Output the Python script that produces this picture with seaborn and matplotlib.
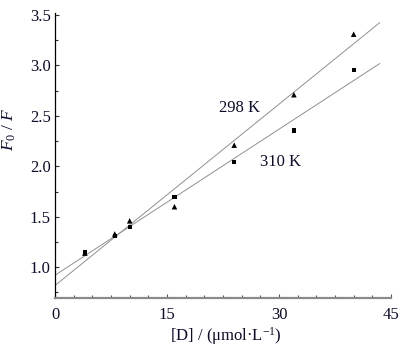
import numpy as np
import pandas as pd
import matplotlib
matplotlib.use("Agg")
import matplotlib.pyplot as plt
from matplotlib.ticker import MultipleLocator
import seaborn as sns

# Drug concentration (umol/L) and fluorescence quenching ratio F0/F
conc = [4, 8, 10, 16, 24, 32, 40]
ratio_298 = [1.14, 1.33, 1.46, 1.60, 2.21, 2.71, 3.31]
ratio_310 = [1.15, 1.31, 1.40, 1.70, 2.04, 2.355, 2.955]
temps = ["298 K", "310 K"]
x_ticks = [0, 15, 30, 45]
y_ticks = [1.0, 1.5, 2.0, 2.5, 3.0, 3.5]

sns.set_style("ticks")
plt.rcParams["font.family"] = ["Liberation Serif", "DejaVu Serif"]
plt.rcParams["mathtext.fontset"] = "custom"
plt.rcParams["mathtext.rm"] = "Liberation Serif"
plt.rcParams["mathtext.it"] = "Liberation Serif:italic"

text_color = "#0c0c2c"

fig = plt.figure(figsize=(4.13, 3.49), dpi=100)
ax = fig.add_axes([55 / 413, (349 - 297.5) / 349, 336 / 413, (297.5 - 13) / 349])

# Stern-Volmer linear fits
fit_x = np.linspace(0, 43.5, 50)
for ys in [ratio_298, ratio_310]:
    k, b = np.polyfit(conc, ys, 1)
    sns.lineplot(x=fit_x, y=k * fit_x + b, ax=ax, color="#909090", lw=0.7)

sns.scatterplot(x=conc, y=ratio_298, marker="^", color="black", s=16,
                edgecolor="none", ax=ax, zorder=3)
sns.scatterplot(x=conc, y=ratio_310, marker="s", color="black", s=9,
                edgecolor="none", ax=ax, zorder=3)

ax.text(22.0, 2.58, temps[0], fontsize=12, color=text_color, va="center", ha="left")
ax.text(27.4, 2.04, temps[1], fontsize=12, color=text_color, va="center", ha="left")

ax.set_xlim(0, 45)
ax.set_ylim(0.70, 3.52)
ax.set_xticks(x_ticks)
ax.set_yticks(y_ticks)
ax.set_yticklabels([f"{v:.1f}" for v in y_ticks])
ax.xaxis.set_minor_locator(MultipleLocator(2.5))
ax.yaxis.set_minor_locator(MultipleLocator(0.25))

ax.tick_params(axis="both", which="both", direction="in", labelsize=12, labelcolor=text_color)
ax.tick_params(axis="both", which="major", length=3, width=0.8)
ax.tick_params(axis="both", which="minor", length=2, width=0.8)
ax.tick_params(axis="x", which="both", pad=7, color="#555555")
ax.tick_params(axis="y", which="both", pad=3, color="#333333")

sns.despine(ax=ax)
ax.spines["left"].set_color("black")
ax.spines["left"].set_linewidth(0.9)
ax.spines["bottom"].set_color("#8a8a8a")
ax.spines["bottom"].set_linewidth(1.6)

ax.set_xlabel(r"[D] / (μmol·L$^{-1}$)", fontsize=12, color=text_color)
ax.set_ylabel(r"$F_{\mathrm{0}}$ / $F$", fontsize=12.5, color=text_color)
ax.xaxis.set_label_coords(0.51, -0.098)
ax.yaxis.set_label_coords(-0.11, 0.59)

fig.savefig("out.png", dpi=100)
